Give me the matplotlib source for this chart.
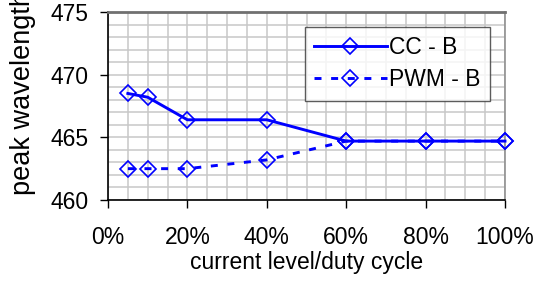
import numpy as np
import matplotlib.pyplot as plt
from matplotlib.ticker import MultipleLocator, FuncFormatter

plt.rcParams['font.family'] = ['Liberation Sans', 'DejaVu Sans']

# duty cycle / current level in percent
x_level = [5, 10, 20, 40, 60, 80, 100]
cc_b = [468.5, 468.2, 466.4, 466.4, 464.7, 464.7, 464.7]
pwm_b = [462.5, 462.5, 462.5, 463.2, 464.7, 464.7, 464.7]

fig = plt.figure(figsize=(5.37, 2.82), dpi=100)
ax = fig.add_axes([108/537, 1-200/282, 397/537, 188/282])

ax.plot(x_level, cc_b, color='#0000FF', lw=2.1, marker='D', ms=8.5,
        mfc='none', mec='#0000FF', mew=1.2, label='CC - B', zorder=3,
        clip_on=False)
ax.plot(x_level, pwm_b, color='#0000FF', lw=2.1, marker='D', ms=8.5,
        mfc='none', mec='#0000FF', mew=1.2, dashes=(2.4, 3.3), label='PWM - B',
        zorder=3, clip_on=False)

ax.set_xlim(0, 100)
ax.set_ylim(460, 475)
ax.xaxis.set_major_locator(MultipleLocator(20))
ax.xaxis.set_minor_locator(MultipleLocator(5))
ax.yaxis.set_major_locator(MultipleLocator(5))
ax.yaxis.set_minor_locator(MultipleLocator(1))
ax.xaxis.set_major_formatter(FuncFormatter(lambda v, p: f'{v:.0f}%'))

ax.grid(which='both', color='#c8c8c8', lw=1.1)
ax.set_axisbelow(True)
ax.tick_params(which='major', direction='out', length=6, width=1, labelsize=16.5)
ax.tick_params(axis='x', pad=13)
ax.tick_params(axis='y', pad=8)
ax.tick_params(which='minor', length=0)

for s in ['left', 'bottom']:
    ax.spines[s].set_color('black')
    ax.spines[s].set_linewidth(1.2)
ax.spines['top'].set_color('#707070')
ax.spines['top'].set_linewidth(2)
ax.spines['right'].set_color('#909090')
ax.spines['right'].set_linewidth(1.2)

ax.set_xlabel('current level/duty cycle', fontsize=16.5, labelpad=1)
fig.text(23/537, 87/282, 'peak wavelength', rotation=90, ha='center', va='bottom', fontsize=19.5)

leg = ax.legend(loc='upper right', bbox_to_anchor=(490/537, 1-27/282),
                bbox_transform=fig.transFigure, fontsize=16.5, frameon=True,
                fancybox=False, handlelength=3.2, borderpad=0.4, labelspacing=0.4,
                handletextpad=0.1, borderaxespad=0)
leg.get_frame().set_edgecolor('#333333')
leg.get_frame().set_linewidth(1)

fig.savefig('out.png', dpi=100)
